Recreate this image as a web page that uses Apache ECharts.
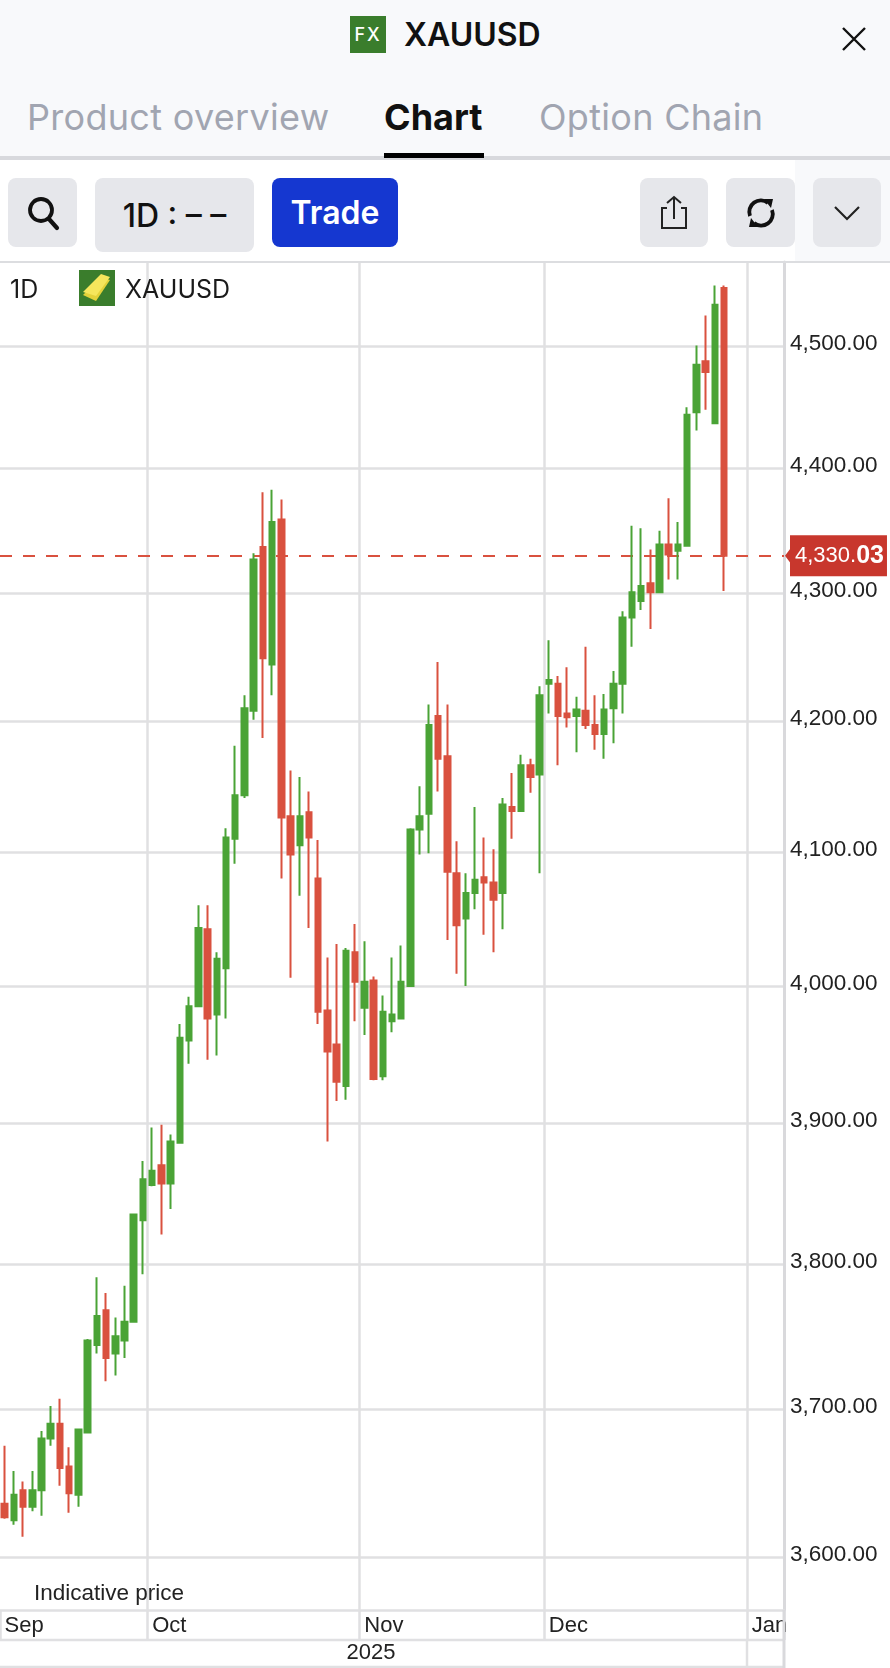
<!DOCTYPE html>
<html>
<head>
<meta charset="utf-8">
<title>XAUUSD</title>
<script src="https://cdn.jsdelivr.net/npm/echarts@6/dist/echarts.min.js"></script>
<style>
  html, body { margin: 0; padding: 0; background: #fff; }
  #page { position: relative; width: 890px; height: 1668px; overflow: hidden; font-family: Inter, sans-serif; color: #111; }
  #main { position: absolute; left: 0; top: 0; width: 890px; height: 1668px; }
  .abs { position: absolute; white-space: nowrap; }
  .btn { position: absolute; background: #e6e7eb; border-radius: 8px; }
  .center { display: flex; align-items: center; justify-content: center; }
</style>
</head>
<body>
<div id="page">
  <div id="main"></div>

  <!-- top bar -->
  <div class="abs" style="left:0;top:0;width:890px;height:158px;background:#f8f9fb"></div>
  <div class="abs" style="left:795px;top:158px;width:95px;height:103px;background:#f8f9fb"></div>
  <div class="abs center" style="left:350px;top:16px;width:36px;height:37px;background:#3a7d2c;color:#fff;font-size:18px;font-weight:500;letter-spacing:2px">FX</div>
  <div class="abs" style="left:404px;top:16px;font-size:32px;line-height:37px;font-weight:600">XAUUSD</div>
  <svg class="abs" style="left:840px;top:25px" width="28" height="28"><path d="M3 3L25 25M25 3L3 25" stroke="#111" stroke-width="2.4" fill="none"/></svg>

  <!-- tabs -->
  <div class="abs" style="left:27px;top:96px;font-size:36px;line-height:42px;color:#a1a5b1;letter-spacing:.3px">Product overview</div>
  <div class="abs" style="left:384px;top:96px;font-size:36px;line-height:42px;font-weight:700">Chart</div>
  <div class="abs" style="left:539px;top:96px;font-size:36px;line-height:42px;color:#a1a5b1;letter-spacing:.3px">Option Chain</div>
  <div class="abs" style="left:0;top:156px;width:890px;height:4px;background:#d8d9dd"></div>
  <div class="abs" style="left:384px;top:153px;width:100px;height:5px;background:#000"></div>

  <!-- toolbar -->
  <div class="btn center" style="left:8px;top:178px;width:69px;height:69px">
    <svg width="34" height="36"><circle cx="15" cy="15" r="11" stroke="#111" stroke-width="3.8" fill="none"/><path d="M23 24L31 33" stroke="#111" stroke-width="4.2" stroke-linecap="round"/></svg>
  </div>
  <div class="btn center" style="left:95px;top:178px;width:159px;height:74px;font-size:32px;font-weight:500">1D : &#8211; &#8211;</div>
  <div class="btn center" style="left:272px;top:178px;width:126px;height:69px;background:#1537d0;color:#fff;font-size:32px;font-weight:600">Trade</div>
  <div class="btn center" style="left:640px;top:178px;width:68px;height:69px">
    <svg width="30" height="36"><path d="M15 2V24M8 8L15 2L22 8M8 13H3V33H27V13H22" stroke="#222" stroke-width="2" fill="none"/></svg>
  </div>
  <div class="btn center" style="left:726px;top:178px;width:69px;height:69px">
    <svg width="34" height="34"><path d="M6 20A11.5 11.5 0 0 1 24 7M28 14A11.5 11.5 0 0 1 10 27" stroke="#111" stroke-width="3.8" fill="none"/><path d="M20 3L29 3L27 12ZM14 31L5 31L7 22Z" fill="#111"/></svg>
  </div>
  <div class="btn center" style="left:813px;top:178px;width:68px;height:69px">
    <svg width="28" height="18"><path d="M2 3L14 15L26 3" stroke="#222" stroke-width="2.2" fill="none"/></svg>
  </div>
  <div class="abs" style="left:0;top:261px;width:890px;height:2px;background:#dcdde0"></div>

  <!-- chart caption -->
  <div class="abs" style="left:10px;top:274px;font-size:25px;line-height:30px;color:#1a1a1a">1D</div>
  <div class="abs" style="left:79px;top:270px;width:36px;height:36px;background:#3a7d2c">
    <svg width="36" height="36"><path d="M4 25L22 7L31 10L17 31Z" fill="#e3d23a"/><path d="M4 22L22 4L31 7L17 26Z" fill="#f5e65c"/></svg>
  </div>
  <div class="abs" style="left:125px;top:274px;font-size:25px;line-height:30px;color:#1a1a1a">XAUUSD</div>
</div>

<script>
// daily candles, Sep 9 2025 .. Dec 29 2025
var categories = [
  '2025-09-09','2025-09-10','2025-09-11','2025-09-12','2025-09-15','2025-09-16','2025-09-17','2025-09-18','2025-09-19',
  '2025-09-22','2025-09-23','2025-09-24','2025-09-25','2025-09-26','2025-09-29','2025-09-30',
  '2025-10-01','2025-10-02','2025-10-03','2025-10-06','2025-10-07','2025-10-08','2025-10-09','2025-10-10',
  '2025-10-13','2025-10-14','2025-10-15','2025-10-16','2025-10-17','2025-10-20','2025-10-21','2025-10-22','2025-10-23','2025-10-24',
  '2025-10-27','2025-10-28','2025-10-29','2025-10-30','2025-10-31',
  '2025-11-03','2025-11-04','2025-11-05','2025-11-06','2025-11-07','2025-11-10','2025-11-11','2025-11-12','2025-11-13','2025-11-14',
  '2025-11-17','2025-11-18','2025-11-19','2025-11-20','2025-11-21','2025-11-24','2025-11-25','2025-11-26','2025-11-27','2025-11-28',
  '2025-12-01','2025-12-02','2025-12-03','2025-12-04','2025-12-05','2025-12-08','2025-12-09','2025-12-10','2025-12-11','2025-12-12',
  '2025-12-15','2025-12-16','2025-12-17','2025-12-18','2025-12-19','2025-12-22','2025-12-23','2025-12-24','2025-12-26','2025-12-29',
  '2025-12-30','2025-12-31','2026-01-01','2026-01-02','2026-01-05','2026-01-06'
];
var openPrices = [
  3636,3625,3645,3634,3645,3680,3690,3661,3642,3684,3744,3768,3738,3747,3760,3831,
  3856,3870,3857,3886,3960,3985,4042,3979,4013,4110,4143,4208,4337,4244,4359,4127,4105,4130,4080,3982,3957,3927,4025,
  3984,4004,3934,3974,3976,4000,4117,4129,4204,4173,4084,4050,4069,4081,4077,4069,4134,4131,4166,4159,
  4229,4229,4206,4204,4208,4197,4190,4210,4229,4281,4294,4308,4301,4339,4334,4338,4446,4488,4437,4549
];
var closePrices = [
  3627,3642,3634,3645,3680,3690,3660,3643,3686,3747,3764,3735,3750,3760,3835,3860,
  3866,3857,3887,3962,3985,4043,3976,4020,4111,4143,4210,4327,4249,4357,4126,4098,4127,4111,3981,3952,3930,4026,4003,
  4003,3932,3981,3979,4003,4117,4127,4197,4171,4085,4045,4069,4079,4077,4064,4136,4131,4166,4157,4220,
  4232,4204,4203,4209,4197,4190,4209,4229,4281,4301,4306,4301,4339,4331,4339,4444,4485,4479,4535,4330.03
];
var lowPrices = [
  3626,3622,3614,3631,3628,3675,3648,3630,3634,3684,3738,3719,3723,3735,3760,3793,
  3855,3821,3839,3886,3943,3985,3946,3949,3976,4091,4141,4201,4187,4220,4080,4006,4067,4043,3972,3887,3916,3917,3974,
  3964,3931,3931,3966,3976,4000,4098,4099,4146,4034,4009,4000,4057,4038,4025,4042,4110,4131,4145,4084,
  4206,4166,4195,4176,4194,4178,4171,4183,4206,4258,4287,4272,4301,4311,4311,4338,4431,4448,4437,4302
];
var highPrices = [
  3675,3658,3651,3658,3685,3702,3707,3674,3686,3748,3791,3780,3763,3785,3835,3873,
  3897,3899,3892,3972,3992,4060,4060,4025,4118,4181,4220,4332,4381,4383,4375,4162,4157,4146,4109,4021,4031,4028,4046,
  4033,4007,3993,4021,4030,4118,4150,4213,4246,4213,4108,4084,4134,4111,4102,4141,4160,4174,4171,4227,
  4263,4235,4242,4219,4258,4220,4221,4239,4286,4354,4352,4335,4350,4376,4357,4450,4501,4526,4551,4551
];
var priceTicks = [3600, 3700, 3800, 3900, 4000, 4100, 4200, 4300, 4400, 4500];
var lastPrice = 4330.03;
var monthStarts = ['2025-09-09', '2025-10-01', '2025-11-03', '2025-12-01', '2026-01-01'];
var monthNames = ['Sep', 'Oct', 'Nov', 'Dec', 'Jan'];

var GRID_COLOR = '#e0e0e2';
var TEXT_COLOR = '#222';
var UP = '#4aa336';
var DOWN = '#d9513f';
var FONT = '"Liberation Sans", Arial, sans-serif';

// the price scale of the chart is logarithmic, so it is plotted as ln(price)
var candles = openPrices.map(function (o, i) {
  return [Math.log(o), Math.log(closePrices[i]), Math.log(lowPrices[i]), Math.log(highPrices[i])];
});
var logTicks = priceTicks.map(function (p) { return Math.log(p); });

function isMonthStart(index, value) {
  return monthStarts.indexOf(value) >= 0;
}

var chart = echarts.init(document.getElementById('main'));
var option = {
  animation: false,
  backgroundColor: 'transparent',
  textStyle: { fontFamily: FONT },
  grid: { left: -2.5, right: 106, top: 262, bottom: 58 },
  xAxis: {
    type: 'category',
    data: categories,
    axisLine: { lineStyle: { color: GRID_COLOR, width: 2.5 } },
    axisTick: { show: true, length: 30, interval: isMonthStart, lineStyle: { color: GRID_COLOR, width: 2.5 } },
    splitLine: { show: true, interval: isMonthStart, showMinLine: false, lineStyle: { color: GRID_COLOR, width: 2.5 } },
    axisLabel: {
      interval: isMonthStart,
      hideOverlap: false,
      align: 'left',
      margin: 5,
      fontSize: 22,
      fontFamily: FONT,
      color: TEXT_COLOR,
      formatter: function (value) { return monthNames[monthStarts.indexOf(value)]; }
    }
  },
  yAxis: {
    type: 'value',
    position: 'right',
    min: Math.log(3565.5),
    max: Math.log(4570.8),
    axisLine: { show: true, lineStyle: { color: '#d9d9dc', width: 3 } },
    axisTick: { show: false, customValues: logTicks },
    splitLine: { show: true, lineStyle: { color: GRID_COLOR, width: 2.5 } },
    axisLabel: {
      customValues: logTicks,
      margin: 6,
      fontSize: 22.5,
      fontFamily: FONT,
      color: TEXT_COLOR,
      verticalAlign: 'bottom',
      lineHeight: 5,
      showMinLabel: true,
      showMaxLabel: true,
      formatter: function (v) {
        return Math.round(Math.exp(v)).toLocaleString('en-US', { minimumFractionDigits: 2 });
      }
    }
  },
  series: [{
    type: 'candlestick',
    data: candles,
    barWidth: 6,
    itemStyle: { color: UP, color0: DOWN, borderColor: UP, borderColor0: DOWN, borderWidth: 2 },
    markLine: {
      silent: true,
      symbol: 'none',
      z: 1,
      precision: 8,
      data: [{ yAxis: Math.log(lastPrice) }],
      lineStyle: { color: DOWN, type: [12, 11], width: 2 },
      label: {
        show: true,
        position: 'end',
        distance: 6,
        backgroundColor: '#c8372d',
        padding: [8, 3, 8, 5],
        formatter: '{a|4,330.}{b|03}',
        rich: {
          a: { color: '#fff', fontSize: 22, fontFamily: FONT },
          b: { color: '#fff', fontSize: 25, fontWeight: 'bold', fontFamily: FONT }
        }
      }
    }
  }],
  graphic: [
    { type: 'line', silent: true, z: 5, shape: { x1: 0, y1: 1640, x2: 784, y2: 1640 }, style: { stroke: GRID_COLOR, lineWidth: 2.5 } },
    { type: 'line', silent: true, z: 5, shape: { x1: 0, y1: 1667, x2: 784, y2: 1667 }, style: { stroke: GRID_COLOR, lineWidth: 2.5 } },
    { type: 'line', silent: true, z: 5, shape: { x1: 784, y1: 1610, x2: 784, y2: 1668 }, style: { stroke: '#d9d9dc', lineWidth: 3 } },
    { type: 'line', silent: true, z: 5, shape: { x1: 747, y1: 1640, x2: 747, y2: 1668 }, style: { stroke: GRID_COLOR, lineWidth: 2.5 } },
    { type: 'text', silent: true, z: 6, x: 34, y: 1594, style: { text: 'Indicative price', font: '22.5px ' + FONT, fill: TEXT_COLOR, verticalAlign: 'middle' } },
    { type: 'text', silent: true, z: 6, x: 371, y: 1653, style: { text: '2025', font: '22px ' + FONT, fill: TEXT_COLOR, align: 'center', verticalAlign: 'middle' } }
  ]
};
chart.setOption(option);

// notch of the last price tag, hung on the scale
var tagY = chart.convertToPixel({ yAxisIndex: 0 }, Math.log(lastPrice));
chart.setOption({
  graphic: option.graphic.concat([
    { type: 'polygon', silent: true, z: 6, shape: { points: [[785, tagY], [791, tagY - 8], [791, tagY + 8]] }, style: { fill: '#c8372d' } }
  ])
});
</script>
</body>
</html>
